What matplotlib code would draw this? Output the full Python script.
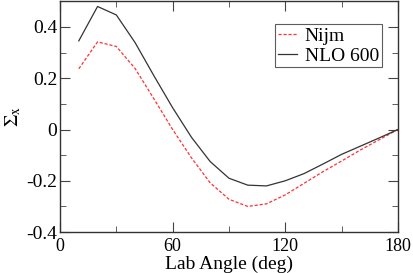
import matplotlib
matplotlib.use("Agg")
import matplotlib.pyplot as plt
from matplotlib.ticker import MultipleLocator

plt.rcParams['font.family'] = ['Liberation Serif', 'DejaVu Serif']
plt.rcParams['mathtext.fontset'] = 'stix'

# vinkler (grader) og verdier lest av bildet
vinkel = [10, 20, 30, 40, 50, 60, 70, 80, 90, 100, 110, 120, 130, 140, 150, 160, 170, 180]
nijm = [0.237, 0.342, 0.324, 0.238, 0.12, 0.0, -0.11, -0.208, -0.272, -0.30, -0.29, -0.255,
        -0.21, -0.165, -0.123, -0.08, -0.04, 0.0]
nlo600 = [0.346, 0.48, 0.447, 0.339, 0.21, 0.085, -0.03, -0.125, -0.19, -0.217, -0.22, -0.20,
          -0.172, -0.135, -0.097, -0.065, -0.033, 0.0]

fig = plt.figure(figsize=(4.14, 2.73), dpi=100)
ax = fig.add_axes([0.145, 0.150, 0.816, 0.845])

ax.plot(vinkel, nijm, color='#ff3030', linestyle=(0, (2.5, 1.5)), linewidth=0.9, label='Nijm')
ax.plot(vinkel, nlo600, color='#333333', linewidth=0.9, label='NLO 600')

ax.set_xlim(0, 180)
ax.set_ylim(-0.4, 0.5)
ax.xaxis.set_major_locator(MultipleLocator(60))
ax.xaxis.set_minor_locator(MultipleLocator(30))
ax.yaxis.set_minor_locator(MultipleLocator(0.1))
ax.set_yticks([-0.4, -0.2, 0, 0.2, 0.4])
ax.set_yticklabels(['-0.4', '-0.2', '0', '0.2', '0.4'])
ax.tick_params(which='both', direction='in', top=True, right=True, color='#444444')
ax.tick_params(which='major', length=7, pad=2)
ax.tick_params(which='minor', length=4)
ax.tick_params(axis='y', labelsize=14)
ax.tick_params(axis='x', which='major', pad=4, labelsize=13)
for s in ax.spines.values():
    s.set_color('#333333')
    s.set_linewidth(1.0)

ax.set_xlabel('Lab Angle (deg)', fontsize=14)
ax.xaxis.label.set_verticalalignment('baseline')
ax.xaxis.set_label_coords(0.5, -0.16)
ax.set_ylabel(r'$\Sigma_\mathrm{x}$', fontsize=14, labelpad=2)

leg = ax.legend(loc='upper right', bbox_to_anchor=(0.953, 0.9), fontsize=14, frameon=True,
                fancybox=False, edgecolor='#333333', handlelength=1.0, handletextpad=0.4,
                borderpad=0.15, labelspacing=0.1, borderaxespad=0)
leg.get_frame().set_linewidth(0.8)

fig.savefig('out.png', dpi=100)
